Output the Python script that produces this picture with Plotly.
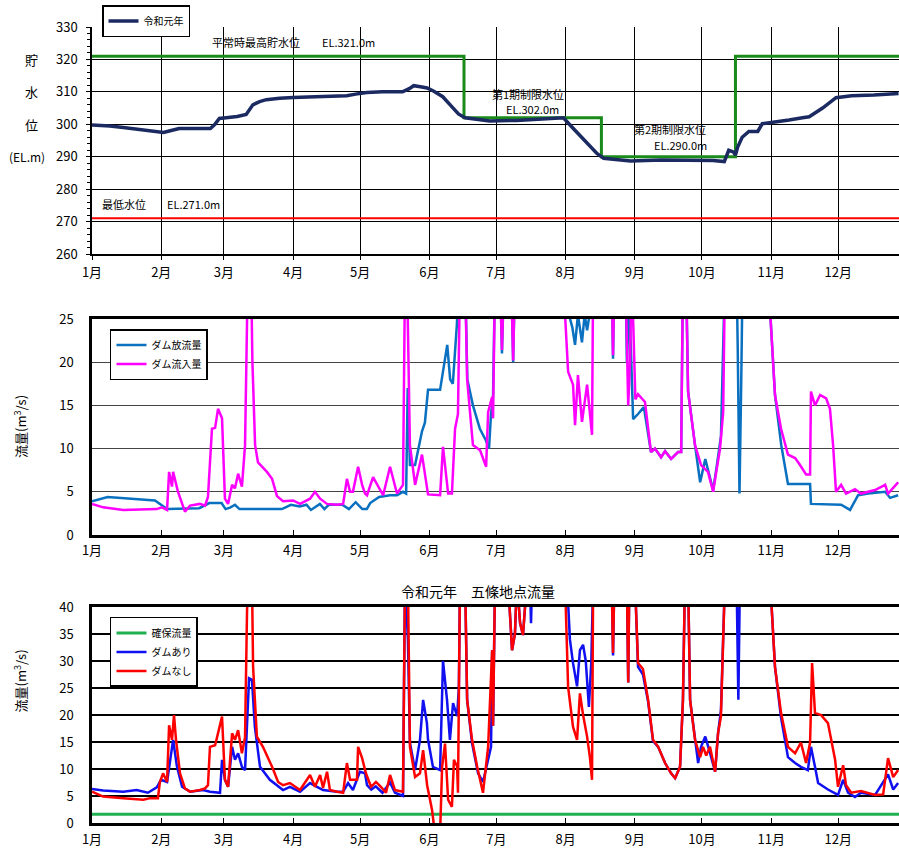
import plotly.graph_objects as go

FONT = "Noto Sans CJK JP"

# ---------------- month axis ----------------
month_days = [0, 31, 59, 90, 120, 151, 181, 212, 243, 273, 304, 334]
month_labels = ["1月", "2月", "3月", "4月", "5月", "6月", "7月", "8月", "9月", "10月", "11月", "12月"]
x_range = [0, 361.2]

# ---------------- top: reservoir level ----------------
level_days = [0, 8, 14, 20, 26, 32, 35, 39, 46, 53, 55, 57, 60, 65, 69, 72, 75, 78, 84, 90, 100,
              114, 118, 123, 130, 139, 142, 144, 147, 150, 153, 157, 160, 164, 167, 172, 178, 190,
              200, 208, 211, 215, 219, 223, 226, 229, 235, 241, 255, 271, 278, 283, 285, 287, 288,
              289, 291, 294, 298, 300, 305, 312, 318, 321, 327, 333, 340, 350, 361]
level_vals = [299.8, 299.5, 299.0, 298.5, 298.0, 297.5, 298.0, 298.7, 298.7, 298.7, 300.0, 301.8,
              302.0, 302.4, 303.0, 306.0, 307.0, 307.6, 308.0, 308.3, 308.5, 308.8, 309.3, 309.8,
              310.0, 310.0, 311.0, 311.9, 311.6, 311.2, 310.2, 308.5, 306.2, 303.2, 302.0, 301.5,
              301.0, 301.2, 301.5, 302.0, 302.0, 299.0, 296.0, 293.0, 291.0, 289.5, 289.2, 288.7,
              289.0, 289.0, 288.8, 288.5, 292.0, 291.5, 290.5, 293.0, 296.0, 297.8, 297.8, 300.2,
              300.6, 301.3, 302.0, 302.3, 305.0, 308.2, 308.8, 309.0, 309.5]
limit_days = [0, 166.5, 166.5, 228, 228, 288, 288, 361.2]
limit_vals = [321, 321, 302, 302, 290, 290, 321, 321]
lowest_days = [0, 361.2]
lowest_vals = [271, 271]

# ---------------- middle: dam inflow / outflow ----------------
inflow = [
    (0, 3.6), (5, 3.2), (14, 2.9), (29, 3.0), (31.3, 3.2), (33.6, 2.9), (34.5, 7.3), (35.8, 5.6),
    (36.3, 7.3), (38.5, 5.0), (41.6, 2.7), (43.9, 3.4), (48.3, 3.6), (50.6, 3.4), (51.9, 4.4),
    (53.7, 12.3), (55.1, 12.4), (56.4, 14.6), (58.2, 13.5), (59.5, 4.2), (60.9, 3.6), (62.7, 5.8),
    (64, 5.4), (65.4, 7.1), (67.1, 5.6), (68.5, 10.4), (69.4, 24.8), (70.3, 32), (71.2, 30),
    (71.8, 20), (73, 10.4), (74.3, 8.4), (78.3, 7.3), (80.6, 6.5), (82.8, 4.5), (85.5, 3.9),
    (90, 4.0), (93.1, 3.6), (97.6, 4.2), (99.8, 5.0), (102.1, 4.2), (105.2, 3.6), (109.7, 3.5),
    (112.4, 3.6), (114.1, 6.5), (115.5, 5.0), (116.8, 5.0), (119.1, 7.9), (120.9, 5.8),
    (122.2, 4.8), (123.1, 4.6), (125.8, 6.7), (130.3, 4.6), (133.4, 7.9), (136.5, 4.8),
    (139.2, 5.8), (140.1, 30), (141, 30), (142.3, 10.4), (144.6, 5.8), (147.7, 9.3), (150.4, 4.7),
    (155.8, 4.6), (157.1, 10.2), (159.4, 4.8), (161.1, 4.8), (162.5, 12.3), (163.8, 14),
    (164.7, 30), (167, 30), (167.9, 18), (170.5, 10.4), (173.7, 9.8), (176.4, 7.9), (177.3, 14.2),
    (179.1, 16), (179.5, 13.5), (180.4, 30), (182.6, 30), (183.5, 21.4), (184.4, 30), (187.6, 30),
    (188.5, 20.2), (189.3, 30), (210.8, 30), (213.1, 18.9), (215.3, 17.4), (216.2, 12.7),
    (217.5, 18.5), (219.3, 13.1), (221.6, 17.4), (223.8, 11.6), (224.3, 30), (232.6, 30),
    (233.2, 20.8), (233.8, 30), (238.8, 30), (239.4, 20), (240, 15), (240.8, 20), (241.5, 30),
    (242.3, 24), (243.2, 15.7), (244.4, 16.3), (247.5, 15.4), (250.2, 9.6), (252, 10),
    (254.7, 9.0), (256.5, 9.7), (259.2, 8.8), (262.3, 9.6), (263.7, 9.6), (264.5, 30),
    (265.9, 30), (266.8, 16.6), (269.9, 10.4), (272.6, 8.1), (275.7, 7.3), (278, 5.0),
    (281.1, 10), (282.5, 14.2), (283.3, 30), (302.6, 30), (305.7, 16.2), (308.4, 12.3),
    (311.5, 9.3), (314.7, 8.9), (316.9, 8.1), (319.6, 7.0), (321.4, 7.0), (321.8, 16.6),
    (323.6, 15), (325.9, 16.2), (328.6, 15.8), (330.3, 14.6), (331.7, 10.4), (333, 5.0),
    (335.3, 5.8), (337.5, 4.8), (341.5, 5.3), (344.2, 4.8), (350.5, 5.2), (355, 5.8),
    (356.3, 4.8), (360.8, 6.1)]
outflow = [
    (0, 3.9), (7, 4.4), (28.2, 4.0), (31, 3.5), (33.6, 3.0), (48, 3.1), (51, 3.5), (52.5, 3.7),
    (58, 3.7), (59.8, 3.0), (62, 3.2), (64, 3.5), (66, 3.0), (85, 3.0), (89, 3.5), (93, 3.3),
    (96, 3.5), (98, 2.9), (102, 3.6), (104, 3.0), (106, 3.5), (112, 3.5), (115, 3.0), (118, 3.8),
    (121, 3.0), (123, 3.0), (124.5, 3.7), (128.5, 4.4), (133.4, 4.6), (136.5, 4.6), (139.2, 5.0),
    (140.6, 4.8), (141.3, 17), (142.3, 8.1), (144.6, 8.1), (147.7, 12), (149, 13), (150.4, 16.8),
    (155.8, 16.8), (159, 22), (160.3, 18), (161.5, 17.5), (163.3, 24.3), (164.2, 30), (167, 30),
    (168, 18), (170.5, 15), (173.6, 12.3), (176.2, 11), (177.7, 10), (178.6, 14), (179.5, 16),
    (180.4, 30), (182.6, 30), (183.5, 21), (184.4, 30), (187.6, 30), (188.5, 20), (189.3, 30),
    (211, 30), (213, 26), (215, 24), (216.2, 22), (217.5, 25.5), (219.3, 22.3), (220.5, 25.5),
    (221.6, 23.7), (223, 26), (224.3, 30), (232.6, 30), (233.2, 20.4), (233.8, 30), (238.8, 30),
    (239.4, 20), (240.5, 27), (242.2, 13.4), (244.4, 14), (247, 14.8), (250.2, 9.6), (252, 10),
    (254.7, 9), (256.5, 9.7), (259.2, 8.8), (262.3, 9.6), (263.7, 9.6), (264.5, 30), (265.9, 30),
    (266.8, 16.6), (269.9, 10.4), (272.2, 6.1), (274.5, 8.8), (276.8, 6.6), (278, 5.2),
    (279.4, 7.6), (281.5, 11.4), (283.3, 30), (288.5, 30), (289, 22), (289.8, 4.8), (290.6, 18),
    (291.2, 30), (302.6, 30), (305.7, 16.2), (308.5, 10.4), (311.5, 5.9), (321.4, 5.9),
    (321.8, 3.6), (335.3, 3.5), (339.3, 2.9), (342.9, 4.6), (347.4, 4.8), (355, 5.0),
    (357.2, 4.3), (360.8, 4.6)]

# ---------------- bottom: Gojo point flow ----------------
no_dam = [
    (0, 5.8), (5, 4.9), (14, 4.6), (23, 4.3), (26, 4.6), (29.5, 4.6), (30.4, 7.6), (31.8, 9.2),
    (33.6, 7.6), (34.5, 18.1), (35.8, 15.4), (36.7, 20), (37.6, 15.4), (39.4, 9.2), (41.6, 6.4),
    (43.9, 5.8), (48.3, 6.1), (50.6, 6.4), (51.9, 7.0), (52.8, 14.1), (55.1, 14.4), (56.4, 16.6),
    (58.2, 19.7), (59.5, 8.0), (60.9, 6.7), (62.7, 16.6), (64, 15.4), (65.4, 17.2), (67.1, 12.9),
    (68.5, 15.9), (69.4, 39.5), (70.3, 45), (71.6, 45), (72.1, 28.9), (73.8, 16), (76.5, 14.1),
    (80.6, 10.4), (83.3, 7.6), (85.5, 7.0), (88.6, 7.4), (93.1, 6.1), (97.6, 8.9), (99.8, 6.7),
    (102.1, 8.9), (103.4, 6.5), (105.2, 9.5), (106.5, 6.1), (109.7, 5.8), (112.4, 5.6),
    (114.1, 11.1), (115.5, 8.0), (118.6, 8.0), (119.1, 14.1), (120.9, 12), (122.6, 9.2),
    (124.9, 6.7), (127.1, 7.6), (129.3, 6.7), (131.6, 5.6), (133.4, 8.9), (135.6, 6.1),
    (139.2, 5.8), (140.1, 45), (141.4, 45), (142.3, 14.1), (144.6, 8.5), (146.8, 9.2),
    (148.2, 13.5), (150, 7.0), (152.2, 2.4), (153.5, -2), (155.8, -2), (156.7, 10.4),
    (158, 14.7), (159.4, 4.3), (161.1, 3), (162, 11.7), (163.4, 10.5), (163.8, 5.6), (164.7, 45),
    (167, 45), (167.9, 22.8), (170.1, 15.4), (172.4, 10.4), (175, 5.6), (177.3, 14.1),
    (179.1, 32), (179.5, 18), (180.4, 45), (186.2, 45), (188, 32), (189.3, 35), (190.2, 45),
    (191.6, 37), (192.9, 34.8), (194.7, 45), (211.7, 45), (213.1, 25.2), (215.3, 17.8),
    (217.1, 15.4), (218.4, 24), (219.8, 20), (221.6, 16), (222.9, 12), (223.8, 8.0), (224.3, 45),
    (232.6, 45), (233.2, 31.5), (233.8, 45), (239.4, 45), (240, 26), (240.5, 45), (243, 45),
    (244.4, 29.6), (246.6, 28.5), (248.9, 22.8), (251.1, 15.4), (253.4, 14.1), (256.5, 11.1),
    (259.2, 9.2), (261, 8.3), (263.2, 10.4), (264.5, 22.8), (265.4, 45), (266.8, 45),
    (267.7, 22.8), (269.9, 15.4), (272.2, 12.2), (273.5, 14.1), (274.9, 12.5), (276.6, 14.1),
    (278.9, 9.5), (280.2, 16.6), (281.5, 19.7), (283.3, 45), (303.5, 45), (305.7, 28.9),
    (308.4, 20.4), (311.5, 14.1), (314.7, 12.9), (317.3, 14.9), (319.6, 11.1), (321.4, 14.9),
    (322.3, 29.6), (323.6, 20.4), (326.3, 20), (329.4, 18.5), (332.6, 11.7), (333.9, 6.7),
    (336.2, 10.7), (337.5, 7.0), (339.8, 5.6), (344.2, 5.9), (350.5, 5.2), (354.1, 5.3),
    (356.3, 12), (358.6, 8.5), (360.8, 9.8)]
with_dam = [
    (0, 6.3), (5, 6.0), (14, 5.8), (20, 6.1), (25, 5.6), (29, 6.6), (30.9, 8.0), (33.6, 7.6),
    (36.3, 15.4), (38, 10.5), (40.3, 6.7), (43.9, 5.8), (49.7, 6.1), (52.8, 5.8), (57.3, 5.6),
    (58.2, 11.7), (59.5, 8.0), (60.9, 6.7), (62.7, 14.1), (64, 11.7), (65.4, 12.9), (67.1, 10.4),
    (68.5, 9.8), (70.3, 26.8), (71.6, 26.5), (72.9, 17.8), (75.2, 10.4), (79.6, 8.0), (85.5, 6.1),
    (88.6, 6.7), (93.1, 5.8), (97.6, 7.4), (100.7, 6.7), (103.4, 6.1), (109.7, 5.8), (112.4, 5.8),
    (114.6, 7.4), (116.8, 6.1), (119.9, 9.5), (122.2, 9.2), (123.1, 7.0), (125, 6.2), (127, 6.8),
    (130, 5.6), (133.4, 7.5), (135.6, 5.6), (139.2, 5.0), (140.1, 45), (141.4, 34), (142.3, 14.8),
    (144.6, 9.8), (146.8, 15.4), (148.2, 22.8), (149.9, 18.5), (150.4, 15.4), (152.6, 10.4),
    (155.8, 9.8), (157.1, 30), (158.9, 22.8), (160.2, 15.4), (161.6, 22.2), (163.4, 19.8),
    (164.2, 25), (164.7, 45), (167, 45), (167.9, 22.8), (170.1, 14.8), (172.8, 9.2), (175, 7.6),
    (176.8, 11), (178.6, 14.1), (179.1, 32), (179.5, 18), (180.4, 45), (186.2, 45), (188, 32),
    (189.3, 35), (190.2, 45), (191.6, 37), (192.9, 34.8), (194.7, 45), (196, 45), (196.5, 37),
    (197, 45), (212.6, 45), (213.9, 34), (215.3, 29.6), (217.1, 25.3), (218.4, 32), (219.8, 33),
    (221, 30), (222.4, 21.5), (223.5, 30), (224.3, 45), (232.6, 45), (233.2, 31), (233.8, 45),
    (239.4, 45), (240, 26), (240.5, 45), (243, 45), (244.4, 28.9), (246.6, 27.5), (248.9, 22.5),
    (251.1, 15.2), (253.4, 14.1), (256.5, 11.1), (259.2, 9.2), (261, 8.3), (263.2, 10.4),
    (264.5, 22.8), (265.4, 45), (266.8, 45), (267.7, 22.8), (269.9, 15.4), (271.3, 11.1),
    (272.6, 14.1), (274.5, 16), (276.6, 13), (278.9, 9.5), (280.2, 16.6), (281.5, 20.8),
    (283.3, 45), (288.5, 45), (289.3, 22.8), (290, 45), (303.5, 45), (305.7, 28.9),
    (308.4, 19.5), (311.5, 12.2), (314.7, 11.1), (317.3, 10.4), (320.4, 9.8), (321.8, 14.1),
    (323.6, 10.4), (325, 7.4), (329.4, 6.2), (333.9, 5.2), (336.2, 8.0), (338.4, 5.6),
    (341.5, 4.8), (344.2, 5.6), (350.5, 5.2), (356.3, 9.0), (358.6, 6.2), (360.8, 7.4)]
secured_days = [0, 361.2]
secured_vals = [1.6, 1.6]


def split(pairs):
    return [p[0] for p in pairs], [p[1] for p in pairs]


fig = go.Figure()

# top
fig.add_trace(go.Scatter(x=limit_days, y=limit_vals, mode="lines", line=dict(color="#1a8a1a", width=3),
                         showlegend=False, xaxis="x", yaxis="y"))
fig.add_trace(go.Scatter(x=lowest_days, y=lowest_vals, mode="lines", line=dict(color="#ff0000", width=2),
                         showlegend=False, xaxis="x", yaxis="y"))
fig.add_trace(go.Scatter(x=level_days, y=level_vals, mode="lines", name="令和元年",
                         line=dict(color="#1c2a62", width=3.5), xaxis="x", yaxis="y", legend="legend"))

# middle
ox, oy = split(outflow)
ix, iy = split(inflow)
fig.add_trace(go.Scatter(x=ox, y=oy, mode="lines", name="ダム放流量", line=dict(color="#0a70c0", width=2.5),
                         xaxis="x2", yaxis="y2", legend="legend2"))
fig.add_trace(go.Scatter(x=ix, y=iy, mode="lines", name="ダム流入量", line=dict(color="#ff00ff", width=2.5),
                         xaxis="x2", yaxis="y2", legend="legend2"))

# bottom
wx, wy = split(with_dam)
nx, ny = split(no_dam)
fig.add_trace(go.Scatter(x=secured_days, y=secured_vals, mode="lines", name="確保流量",
                         line=dict(color="#20b050", width=3), xaxis="x3", yaxis="y3", legend="legend3"))
fig.add_trace(go.Scatter(x=wx, y=wy, mode="lines", name="ダムあり", line=dict(color="#1010f0", width=2.5),
                         xaxis="x3", yaxis="y3", legend="legend3"))
fig.add_trace(go.Scatter(x=nx, y=ny, mode="lines", name="ダムなし", line=dict(color="#ff0000", width=2.5),
                         xaxis="x3", yaxis="y3", legend="legend3"))

tickfont = dict(family=FONT, size=13, color="black")

xcommon = dict(range=x_range, tickmode="array", tickvals=month_days, ticktext=month_labels,
               tickfont=tickfont, showline=True, linecolor="black", zeroline=False, fixedrange=True)

legend_style = dict(bgcolor="white", bordercolor="black", borderwidth=1.5,
                    font=dict(family=FONT, size=10, color="black"),
                    xanchor="left", yanchor="top", itemwidth=30, tracegroupgap=0)

fig.update_layout(
    width=899, height=852,
    margin=dict(l=92, r=0, t=27, b=29, autoexpand=False),
    paper_bgcolor="white", plot_bgcolor="white",
    font=dict(family=FONT, size=12, color="black"),
    xaxis=dict(**xcommon, domain=[0, 1], anchor="y", showgrid=True, gridcolor="black", gridwidth=1,
               linewidth=1.5, ticks="outside", ticklen=4, tickcolor="black", ticklabelstandoff=2),
    yaxis=dict(domain=[0.7148, 1.0], anchor="x", range=[260, 330], dtick=10, tickfont=tickfont,
               showgrid=True, gridcolor="black", gridwidth=1, showline=True, linecolor="black",
               linewidth=1.5, ticks="outside", ticklen=4, tickcolor="black", zeroline=False,
               ticklabelstandoff=6,
               minor=dict(dtick=2, ticks="outside", ticklen=3, tickcolor="black", showgrid=False)),
    xaxis2=dict(**xcommon, domain=[0, 1], anchor="y2", showgrid=False, mirror=True, linewidth=2.5,
                ticks="inside", ticklen=5, tickcolor="black", ticklabelstandoff=2),
    yaxis2=dict(domain=[0.3618, 0.6332], anchor="x2", range=[0, 25], dtick=5, tickfont=tickfont,
                showgrid=True, gridcolor="#444444", gridwidth=1, showline=True, mirror=True,
                linecolor="black", linewidth=2.5, ticks="", zeroline=False, ticklabelstandoff=13),
    xaxis3=dict(**xcommon, domain=[0, 1], anchor="y3", showgrid=False, mirror=True, linewidth=2.5,
                ticks="inside", ticklen=5, tickcolor="black", ticklabelstandoff=3),
    yaxis3=dict(domain=[0, 0.2714], anchor="x3", range=[0, 40], dtick=5, tickfont=tickfont,
                showgrid=True, gridcolor="black", gridwidth=2, showline=True, mirror=True,
                linecolor="black", linewidth=2.5, ticks="", zeroline=False, ticklabelstandoff=13),
    legend=dict(**legend_style, x=0.0124, y=1.0276),
    legend2=dict(**legend_style, x=0.0223, y=0.6206),
    legend3=dict(**legend_style, x=0.0223, y=0.2588),
)

ann = []
small = dict(family=FONT, size=11, color="black")
# top-panel y label (stacked)
for txt, yv, xc, fs in [("貯", 320, 31, 13), ("水", 310, 31, 13), ("位", 300, 31, 13), ("(EL.m)", 290, 27, 12)]:
    ann.append(dict(text=txt, x=(xc - 92) / 807, xref="paper", xanchor="center", y=yv, yref="y",
                    showarrow=False, font=dict(family=FONT, size=fs, color="black")))
# level annotations
ann += [
    dict(text="平常時最高貯水位", x=52.8, y=325.4, xref="x", yref="y", xanchor="left", showarrow=False, font=small),
    dict(text="EL.321.0m", x=102, y=325.4, xref="x", yref="y", xanchor="left", showarrow=False, font=small),
    dict(text="最低水位", x=3.6, y=275.5, xref="x", yref="y", xanchor="left", showarrow=False, font=small),
    dict(text="EL.271.0m", x=32.7, y=275.5, xref="x", yref="y", xanchor="left", showarrow=False, font=small),
    dict(text="第1期制限水位", x=195.2, y=309.3, xref="x", yref="y", showarrow=False, font=small),
    dict(text="EL.302.0m", x=197, y=304.6, xref="x", yref="y", showarrow=False, font=small),
    dict(text="第2期制限水位", x=258.7, y=298.5, xref="x", yref="y", showarrow=False, font=small),
    dict(text="EL.290.0m", x=263.2, y=293.5, xref="x", yref="y", showarrow=False, font=small),
]
# flow axis titles
for yc in [(0.3618 + 0.6332) / 2, 0.2714 / 2]:
    ann.append(dict(text="流量(m<sup>3</sup>/s)", x=(20 - 92) / 807, xref="paper", xanchor="center",
                    y=yc, yref="paper", textangle=-90, showarrow=False,
                    font=dict(family=FONT, size=13, color="black")))
# bottom title
ann.append(dict(text="令和元年　五條地点流量", x=(478 - 92) / 807, xref="paper", xanchor="center",
                y=0.2714, yref="paper", yanchor="bottom", yshift=4, showarrow=False,
                font=dict(family=FONT, size=14, color="black")))
fig.update_layout(annotations=ann)

fig.write_html("out.html", config={"displayModeBar": False},
               post_script="document.body.style.margin='0';document.body.style.overflow='hidden';")
